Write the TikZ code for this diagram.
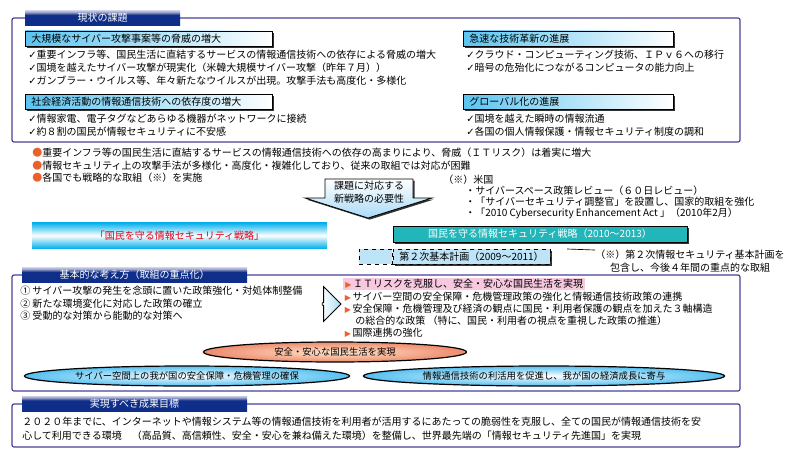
\documentclass[tikz,border=0pt]{standalone}
\usepackage{fontspec}
\setmainfont{Noto Sans CJK JP}
\newfontfamily\symfont{DejaVu Sans}
\usepackage{tikz}
\usetikzlibrary{shapes.geometric, shapes.arrows, shadows, positioning}
\definecolor{framecol}{RGB}{72,64,150}
\definecolor{tabnavy}{RGB}{14,46,138}
\definecolor{tablight}{RGB}{160,166,206}
\definecolor{headblue}{RGB}{92,196,240}
\definecolor{dotorange}{RGB}{236,96,44}
\definecolor{callblue}{RGB}{168,218,246}
\definecolor{bannercyan}{RGB}{0,174,236}
\definecolor{bannerred}{RGB}{228,0,24}
\definecolor{stratteal}{RGB}{34,182,186}
\definecolor{planblue}{RGB}{190,228,248}
\definecolor{pinkhl}{RGB}{248,200,222}
\definecolor{salmon}{RGB}{238,138,108}
\definecolor{ellblue}{RGB}{84,192,240}
\pgfdeclareverticalshading{tabshade}{100bp}{color(0bp)=(tabnavy); color(25bp)=(tabnavy); color(60bp)=(tabnavy); color(70bp)=(tablight); color(75bp)=(tablight!60!white); color(100bp)=(tablight!60!white)}
\newcommand{\jpsize}{\fontsize{7.5pt}{9.75pt}\selectfont}
\newcommand{\jpsmall}{\fontsize{7pt}{9pt}\selectfont}
\newcommand{\chk}{{\symfont ✓}}
\newcommand{\dotmark}{\textcolor{dotorange}{●}}
\newcommand{\trimark}{\textcolor{dotorange}{\symfont\fontsize{6pt}{6pt}\selectfont ▶}\,}
\tikzstyle{txt} = [anchor=west, inner sep=0pt, font=\jpsize]
\tikzstyle{frame} = [draw=framecol, line width=0.9pt, rounded corners=1.5pt]
\tikzstyle{tab} = [rectangle, shading=tabshade, text=white, minimum width=168.75pt, minimum height=11.25pt, inner sep=0pt, font=\jpsize]
\tikzstyle{subhead} = [rectangle, draw=black, line width=0.6pt, left color=headblue, right color=white, minimum height=11.25pt, inner xsep=4.5pt, inner ysep=0pt, anchor=west, font=\jpsize, drop shadow={shadow xshift=1.2pt, shadow yshift=-1.2pt, fill=black, opacity=0.8}]
\tikzstyle{callout} = [draw=black, line width=0.6pt, top color=white, bottom color=callblue, drop shadow={shadow xshift=1.2pt, shadow yshift=-1.2pt, fill=black, opacity=0.8}]
\tikzstyle{banner} = [rectangle, top color=bannercyan, bottom color=bannercyan, middle color=white, minimum width=221.25pt, minimum height=19.5pt, text=bannerred, font=\jpsize]
\tikzstyle{stratbox} = [rectangle, fill=stratteal, draw=black, line width=0.4pt, text=white, minimum width=220.5pt, minimum height=12pt, inner sep=0pt, font=\jpsize, drop shadow={shadow xshift=1.2pt, shadow yshift=-1.2pt, fill=black, opacity=0.8}]
\tikzstyle{planbox} = [rectangle, fill=planblue, draw=black, dashed, line width=0.5pt, minimum height=11.25pt, inner sep=0pt, font=\jpsize]
\tikzstyle{hollow} = [single arrow, draw=black, line width=0.6pt, left color=white, right color=callblue, minimum width=26pt, minimum height=14pt, single arrow head extend=4pt, inner sep=0pt]
\tikzstyle{goalell} = [ellipse, draw=black, line width=0.9pt, minimum height=15pt, inner sep=0pt, font=\jpsmall]
\tikzstyle{safeell} = [goalell, inner color=white!80!orange, outer color=salmon]
\tikzstyle{blueell} = [goalell, inner color=white, outer color=ellblue]

\begin{document}
\begin{tikzpicture}[x=0.75pt, y=-0.75pt]
\useasboundingbox (0,0) rectangle (795,453);

% Cornici
\draw [frame] (12,18) rectangle (740,142);
\draw [frame] (12,275) rectangle (740,391);
\draw [frame] (12,404) rectangle (740,447);

% Schede dei titoli
\node (tabnow) [tab, minimum width=116.25pt] at (102.5,18) {現状の課題};
\node (tabbasic) [tab] at (134.5,275) {基本的な考え方（取組の重点化）};
\node (tabgoal) [tab] at (134.5,403.5) {実現すべき成果目標};

% Situazione attuale
\node (threathead) [subhead, text width=176.25pt] at (25,38.5) {大規模なサイバー攻撃事案等の脅威の増大};
\node (threat1) [txt] at (28,55) {\chk 重要インフラ等、国民生活に直結するサービスの情報通信技術への依存による脅威の増大};
\node (threat2) [txt] at (28,68) {\chk 国境を越えたサイバー攻撃が現実化（米韓大規模サイバー攻撃（昨年７月））};
\node (threat3) [txt] at (28,81) {\chk ガンブラー・ウイルス等、年々新たなウイルスが出現。攻撃手法も高度化・多様化};
\node (dephead) [subhead, text width=176.25pt] at (25,102) {社会経済活動の情報通信技術への依存度の増大};
\node (dep1) [txt] at (28,119) {\chk 情報家電、電子タグなどあらゆる機器がネットワークに接続};
\node (dep2) [txt] at (28,132) {\chk 約８割の国民が情報セキュリティに不安感};
\node (techhead) [subhead, text width=148.5pt] at (463,38.5) {急速な技術革新の進展};
\node (tech1) [txt] at (466,55) {\chk クラウド・コンピューティング技術、ＩＰｖ６への移行};
\node (tech2) [txt] at (466,68) {\chk 暗号の危殆化につながるコンピュータの能力向上};
\node (globhead) [subhead, text width=148.5pt] at (463,102) {グローバル化の進展};
\node (glob1) [txt] at (466,119) {\chk 国境を越えた瞬時の情報流通};
\node (glob2) [txt] at (466,132) {\chk 各国の個人情報保護・情報セキュリティ制度の調和};

% Conseguenze
\node (risk1) [txt] at (32,153) {\dotmark 重要インフラ等の国民生活に直結するサービスの情報通信技術への依存の高まりにより、脅威（ＩＴリスク）は着実に増大};
\node (risk2) [txt] at (32,166) {\dotmark 情報セキュリティ上の攻撃手法が多様化・高度化・複雑化しており、従来の取組では対応が困難};
\node (risk3) [txt] at (32,178) {\dotmark 各国でも戦略的な取組（※）を実施};

\draw [callout] (325,179) -- (413,179) -- (413,198) -- (432,198) -- (368,218) -- (305,198) -- (325,198) -- cycle;
\node (need) [txt, anchor=center, align=center] at (369,192) {課題に対応する\\新戦略の必要性};

\node (usnote) [txt] at (443,180) {（※）米国};
\node (us1) [txt] at (465,191) {・サイバースペース政策レビュー（６０日レビュー）};
\node (us2) [txt] at (465,202) {・「サイバーセキュリティ調整官」を設置し、国家的取組を強化};
\node (us3) [txt] at (465,213) {・「2010 Cybersecurity Enhancement Act 」（2010年2月）};

% Strategia
\node (banner) [banner] at (179.5,235.5) {「国民を守る情報セキュリティ戦略」\hspace{13.5pt}};
\node (strategy) [stratbox] at (540,234) {国民を守る情報セキュリティ戦略（2010～2013）};
\node (plan) [planbox, minimum width=117.75pt, drop shadow={shadow xshift=1.2pt, shadow yshift=-1.2pt, fill=black, opacity=0.8}] at (471.5,256.5) {第２次基本計画（2009～2011）};
\node (planold) [planbox, minimum width=24.75pt, left=0pt of plan] {};
\node (plannote) [txt, anchor=center, align=center] at (690,261.5) {（※）第２次情報セキュリティ基本計画を\\包含し、今後４年間の重点的な取組};
\coordinate (leadend) at (567,249);
\draw [line width=0.5pt] (leadend) -- (plannote.north west);

% Impostazione di base
\node (base1) [txt] at (20,291) {① サイバー攻撃の発生を念頭に置いた政策強化・対処体制整備};
\node (base2) [txt] at (20,303.5) {② 新たな環境変化に対応した政策の確立};
\node (base3) [txt] at (20,316) {③ 受動的な対策から能動的な対策へ};
\node (shift) [hollow] at (331,304) {};
\node (focus1) [txt, fill=pinkhl, inner xsep=1.5pt, inner ysep=0.75pt] at (343,284) {\trimark ＩＴリスクを克服し、安全・安心な国民生活を実現\hspace{6pt}};
\node (focus2) [txt] at (344.5,296.5) {\trimark サイバー空間の安全保障・危機管理政策の強化と情報通信技術政策の連携};
\node (focus3) [txt] at (344.5,309) {\trimark 安全保障・危機管理及び経済の観点に国民・利用者保護の観点を加えた３軸構造};
\node (focus3b) [txt] at (355,320.5) {の総合的な政策 （特に、国民・利用者の視点を重視した政策の推進）};
\node (focus4) [txt] at (344.5,333) {\trimark 国際連携の強化};

\node (safe) [safeell, minimum width=197.25pt] at (335,352) {安全・安心な国民生活を実現};
\node (security) [blueell, minimum width=243.75pt] at (187,376) {サイバー空間上の我が国の安全保障・危機管理の確保};
\node (growth) [blueell, minimum width=270.75pt] at (544,376) {情報通信技術の利活用を促進し、我が国の経済成長に寄与};

% Obiettivo
\node (target1) [txt] at (22,422) {２０２０年までに、インターネットや情報システム等の情報通信技術を利用者が活用するにあたっての脆弱性を克服し、全ての国民が情報通信技術を安};
\node (target2) [txt] at (22,436) {心して利用できる環境　（高品質、高信頼性、安全・安心を兼ね備えた環境）を整備し、世界最先端の「情報セキュリティ先進国」を実現};
\end{tikzpicture}
\end{document}
